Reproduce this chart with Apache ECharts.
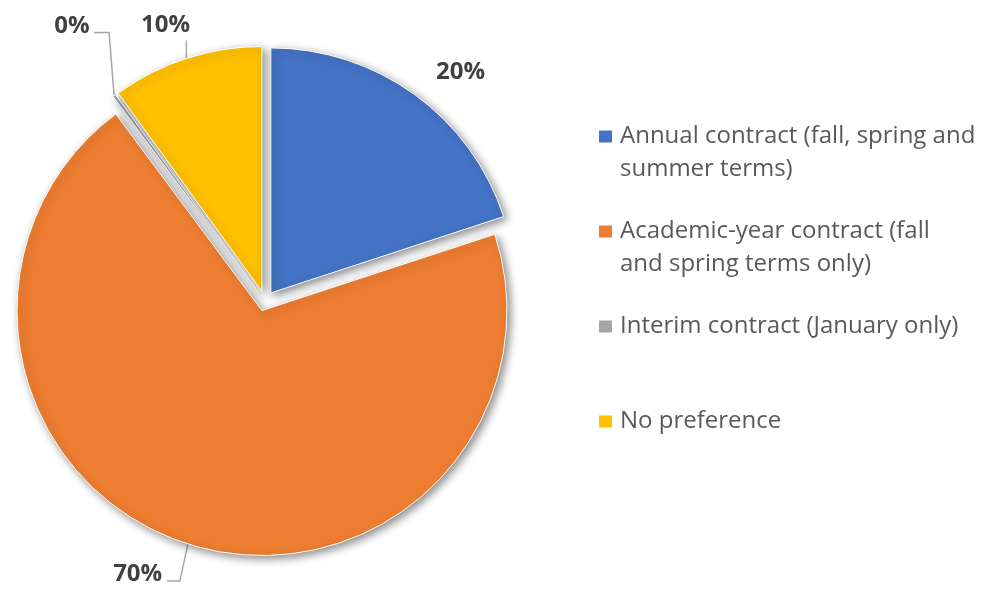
<!DOCTYPE html>
<html>
<head>
<meta charset="utf-8">
<script src="https://cdn.jsdelivr.net/npm/echarts@6/dist/echarts.min.js"></script>
<style>
  html, body { margin: 0; padding: 0; background: #ffffff; }
  #chart { width: 995px; height: 591px; }
</style>
</head>
<body>
<div id="chart"></div>
<script>
// Survey: preferred contract type
const categories = [
  'Annual contract (fall, spring and summer terms)',
  'Academic-year contract (fall and spring terms only)',
  'Interim contract (January only)',
  'No preference'
];
// Legend text wrapped onto lines
const legendLines = [
  ['Annual contract (fall, spring and', 'summer terms)'],
  ['Academic-year contract (fall', 'and spring terms only)'],
  ['Interim contract (January only)'],
  ['No preference']
];
// Share of responses (%)
const shares = [20, 70, 0.2, 10];
const colors = ['#4472C4', '#ED7D31', '#A5A5A5', '#FFC000'];

// Leader line lengths per slice: [radial, horizontal]
const leaderLengths = [[28, 0], [32, 11], [86, 4], [35, 5]];

const FONT = '"Open Sans", "Noto Sans", sans-serif';

const chart = echarts.init(document.getElementById('chart'), null, { renderer: 'canvas' });

// Excel-style bent leader lines starting at each slice's rim point
function placeLabel(p) {
  const pts = p.labelLinePoints;
  if (!pts || !pts.length) return {};
  const a = pts[0];
  switch (p.dataIndex) {
    case 1:
      return { labelLinePoints: [a, [a[0] - 8, a[1] + 37], [a[0] - 21, a[1] + 37]] };
    case 2:
      return {
        align: 'left',
        labelLinePoints: [a, [a[0] - 5, a[1] - 63], [a[0] - 20, a[1] - 63]]
      };
    case 3:
      return {
        align: 'center',
        labelLinePoints: [a, [a[0], a[1] - 9], [a[0], a[1] - 18]]
      };
    default:
      return {};
  }
}

const option = {
  animation: false,
  backgroundColor: '#ffffff',
  color: colors,
  legend: {
    orient: 'vertical',
    left: 597,
    top: 87,
    padding: 0,
    itemGap: -4,
    itemWidth: 15,
    itemHeight: 14,
    icon: 'rect',
    selectedMode: false,
    data: categories,
    // Blank first line keeps the swatch level with the first text line,
    // and every entry gets the same three-line slot.
    formatter: function (name) {
      const lines = legendLines[categories.indexOf(name)];
      return '\n' + lines.join('\n') + (lines.length > 1 ? '' : '\n');
    },
    textStyle: {
      color: '#595959',
      fontSize: 24,
      lineHeight: 33,
      padding: [0, 0, 0, 2],
      fontFamily: FONT
    }
  },
  series: [{
    type: 'pie',
    center: [265, 301],
    radius: 245,
    startAngle: 90,
    clockwise: true,
    selectedMode: 'multiple',
    selectedOffset: 10,
    avoidLabelOverlap: false,
    emphasis: { disabled: true },
    itemStyle: {
      borderColor: '#ffffff',
      borderWidth: 1,
      shadowBlur: 9,
      shadowColor: 'rgba(0,0,0,0.45)',
      shadowOffsetX: 3,
      shadowOffsetY: 3
    },
    label: {
      show: true,
      position: 'outside',
      formatter: function (p) { return Math.round(p.percent) + '%'; },
      color: '#404040',
      fontSize: 24,
      fontWeight: 'bold',
      fontFamily: FONT
    },
    labelLine: {
      show: true,
      lineStyle: { color: '#A6A6A6', width: 1.5 }
    },
    labelLayout: placeLabel,
    data: categories.map((name, i) => ({
      name: name,
      value: shares[i],
      selected: true,
      labelLine: {
        show: i !== 0,
        length: leaderLengths[i][0],
        length2: leaderLengths[i][1]
      }
    }))
  }]
};

chart.setOption(option);
</script>
</body>
</html>
